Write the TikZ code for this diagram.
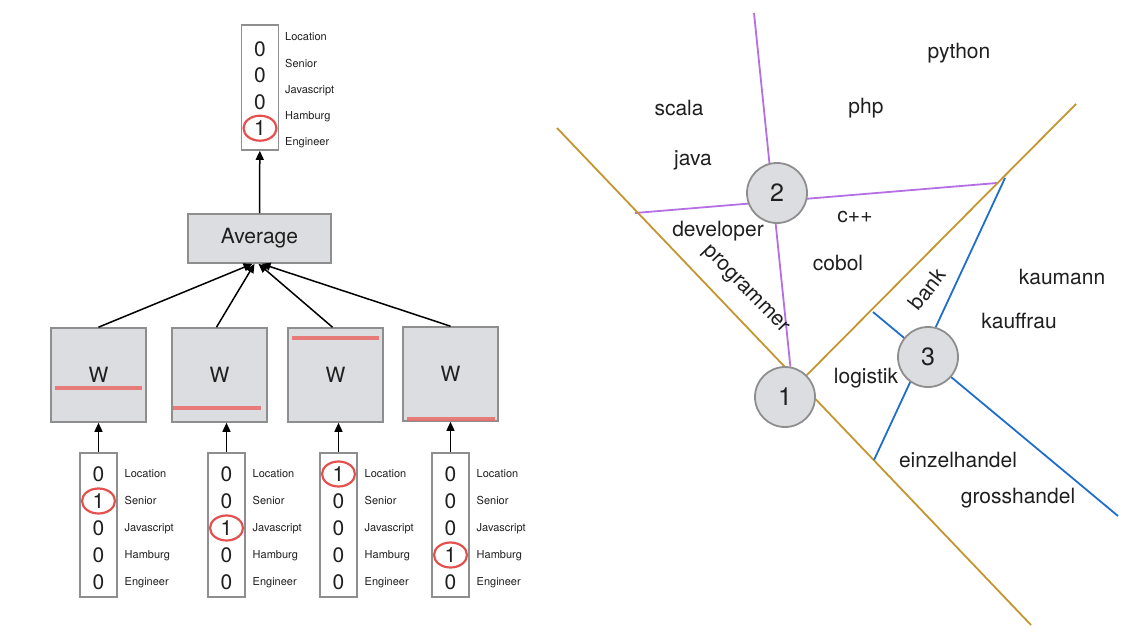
\documentclass[tikz,border=0pt]{standalone}
\usepackage{fontspec}
\setmainfont{TeX Gyre Heros}
\usetikzlibrary{arrows.meta,positioning,shapes.geometric,backgrounds}
\definecolor{boxfill}{HTML}{DCDDE0}
\definecolor{boxline}{HTML}{8E8E8E}
\definecolor{hitred}{HTML}{E5504F}
\definecolor{gold}{HTML}{C4962F}
\definecolor{lilac}{HTML}{B46FE5}
\definecolor{azure}{HTML}{1D6FCB}

\begin{document}
\begin{tikzpicture}[x=1pt, y=-1pt,
    every node/.style={inner sep=0pt, text=black!88},
    unit/.style={rectangle, draw=boxline, line width=1.6pt, fill=boxfill, font=\fontsize{21}{21}\selectfont},
    vec/.style={rectangle, draw=boxline, line width=1.6pt, minimum width=37pt},
    digit/.style={font=\fontsize{21}{21}\selectfont},
    feat/.style={anchor=west, text height=8pt, text depth=2.5pt, font=\fontsize{11}{11}\selectfont},
    hit/.style={ellipse, draw=hitred, line width=2.2pt, minimum width=33pt, minimum height=25pt},
    scribble/.style={hitred!85, line width=3.2pt, opacity=0.85},
    arrow/.style={-{Triangle[length=9pt,width=8pt]}, line width=1.5pt},
    cluster/.style={circle, draw=boxline, line width=1.8pt, fill=boxfill, minimum size=60pt, font=\fontsize{25}{25}\selectfont},
    word/.style={font=\fontsize{21}{21}\selectfont},
    border/.style={line width=1.8pt}
  ]
    \useasboundingbox (0,0) rectangle (1130,632);

    % left: one-hot inputs -> W -> average
    \node[vec, minimum height=125pt] (out) at (260,87.5) {};
    \foreach \b [count=\i] in {0,0,0,1}
      \node[digit] (out-\i) at (260,{23+26.3*\i}) {\b};
    \foreach \f [count=\i] in {Location,Senior,Javascript,Hamburg,Engineer}
      \node[feat] (out-f\i) at (285,{11.75+26.25*\i}) {\f};
    \node[hit] (out-hit) at (out-4) {};

    \node[unit, minimum width=143pt, minimum height=49pt] (avg) at (259.5,238.5) {Average};

    \node[unit, minimum width=95pt, minimum height=94pt] (wA) at (98.5,375) {W};
    \node[unit, minimum width=95pt, minimum height=94pt] (wB) at (219.5,375) {W};
    \node[unit, minimum width=95pt, minimum height=94pt] (wC) at (335.5,375) {W};
    \node[unit, minimum width=95pt, minimum height=94pt] (wD) at (450.5,374) {W};

    \draw[scribble] ([xshift=5pt,yshift=-13pt]wA.west) -- ([xshift=-5pt,yshift=-13pt]wA.east);
    \draw[scribble] ([xshift=2pt,yshift=-33pt]wB.west) -- ([xshift=-7pt,yshift=-33pt]wB.east);
    \draw[scribble] ([xshift=5pt,yshift=37pt]wC.west) -- ([xshift=-5pt,yshift=37pt]wC.east);
    \draw[scribble] ([xshift=5pt,yshift=-45pt]wD.west) -- ([xshift=-4pt,yshift=-45pt]wD.east);

    \foreach \nm/\x/\bits/\h in {inA/98.5/{0,1,0,0,0}/2, inB/226.5/{0,0,1,0,0}/3,
                                 inC/338.5/{1,0,0,0,0}/1, inD/450.5/{0,0,0,1,0}/4} {
      \node[vec, minimum height=144pt] (\nm) at (\x,525) {};
      \foreach \b [count=\i] in \bits
        \node[digit] (\nm-\i) at (\x,{447+27*\i}) {\b};
      \foreach \f [count=\i] in {Location,Senior,Javascript,Hamburg,Engineer}
        \node[feat] (\nm-f\i) at (\x+26,{448+27*\i}) {\f};
      \node[hit] (\nm-hit) at (\nm-\h) {};
    }

    \draw[arrow] (avg) -- (out);
    \draw[arrow] (wA.north) -- ([xshift=-7pt]avg.south);
    \draw[arrow] ([xshift=-3pt]wB.north) -- ([xshift=-5pt]avg.south);
    \draw[arrow] ([xshift=-3pt]wC.north) -- ([xshift=-1pt]avg.south);
    \draw[arrow] (wD.north) -- ([xshift=2pt]avg.south);
    \draw[arrow] (inA.north) -- (inA.north |- wA.south);
    \draw[arrow] (inB.north) -- (inB.north |- wB.south);
    \draw[arrow] (inC.north) -- (inC.north |- wC.south);
    \draw[arrow] (inD.north) -- (inD.north |- wD.south);

    % right: clusters and their borders
    \node[cluster] (c2) at (777,193) {2};
    \node[cluster] (c1) at (785,397) {1};
    \node[cluster] (c3) at (928,357) {3};

    \coordinate (lTop) at (754,13);
    \coordinate (lLeft) at (635,213);
    \coordinate (lRight) at (997,183);
    \coordinate (gStart) at (557,128);
    \coordinate (gEnd) at (1031,625);
    \coordinate (gTip) at (1076,104);
    \coordinate (bTop) at (1005,178);
    \coordinate (bLow) at (874,460);
    \coordinate (bLeft) at (873,312);
    \coordinate (bRight) at (1118,516);

    \begin{pgfonlayer}{background}
      \draw[border, lilac] (lTop) -- (c1.80);
      \draw[border, lilac] (lLeft) -- (lRight);
      \draw[border, gold] (gStart) -- (gEnd);
      \draw[border, gold] (c1) -- (gTip);
      \draw[border, azure] (bTop) -- (bLow);
      \draw[border, azure] (bLeft) -- (bRight);
    \end{pgfonlayer}

    \node[word] (python) at (959,53) {python};
    \node[word] (scala) at (679,108) {scala};
    \node[word] (php) at (866,108) {php};
    \node[word] (java) at (693,160) {java};
    \node[word] (cpp) at (855,217) {c++};
    \node[word] (developer) at (718,231) {developer};
    \node[word] (cobol) at (838,263) {cobol};
    \node[word, rotate=-46] (programmer) at (745,290) {programmer};
    \node[word, rotate=52] (bank) at (927,289) {bank};
    \node[word] (kaumann) at (1062,277) {kaumann};
    \node[word] (kauffrau) at (1019,321) {kauffrau};
    \node[word] (logistik) at (866,378) {logistik};
    \node[word] (einzelhandel) at (958,460) {einzelhandel};
    \node[word] (grosshandel) at (1018,498) {grosshandel};
  \end{tikzpicture}
\end{document}
